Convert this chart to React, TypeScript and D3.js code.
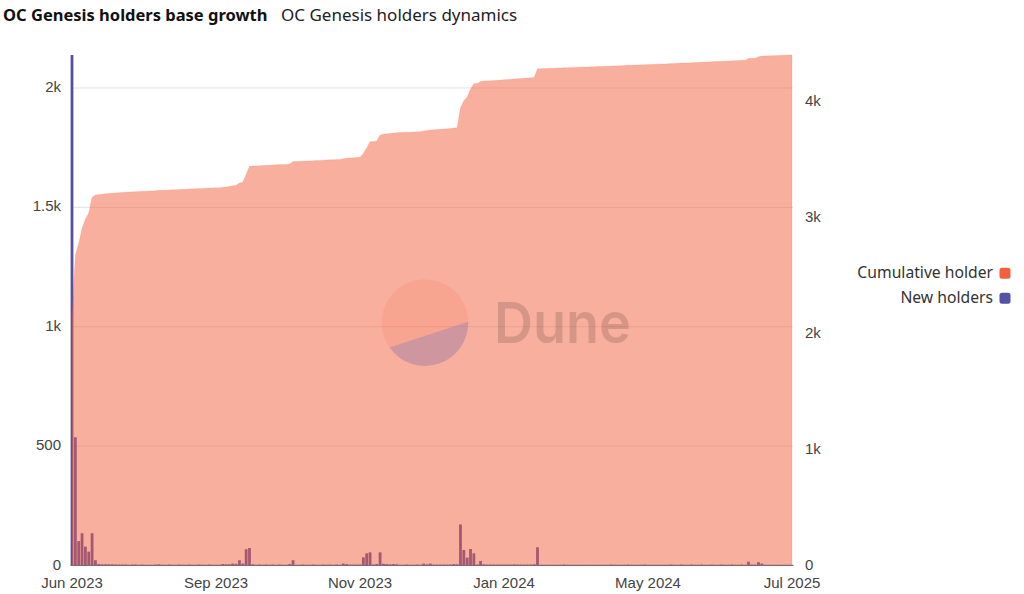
import React from "react";
import * as d3 from "d3";

const titleMain = "OC Genesis holders base growth";
const titleSub = "OC Genesis holders dynamics";
const seriesNames = ["Cumulative holder", "New holders"];
const xTickLabels = ["Jun 2023", "Sep 2023", "Nov 2023", "Jan 2024", "May 2024", "Jul 2025"];
const xTickEvery = 43;
const leftTicks = [0, 500, 1000, 1500, 2000];
const rightTicks = [0, 1000, 2000, 3000, 4000];

const newHolders = [
  2136, 535, 100, 133, 77, 56, 133, 20, 4,
  3, 3, 3, 3, 2, 2,
  2, 2, 1, 2, 2, 1, 2, 1, 1, 1, 2,
  3,
  1, 1, 2, 1, 1, 2, 1, 1, 2, 1, 1, 2, 1, 1, 2, 1, 1, 1,
  4, 3, 3, 6, 5, 20, 6, 66, 71, 3,
  1, 2, 1, 2, 1, 2, 1, 2, 1, 1,
  4, 20,
  1, 1, 2, 1, 1, 2, 1, 1, 2, 1, 2, 1, 2, 1,
  6, 4, 2, 2, 2, 2,
  32, 49, 53, 2, 4, 53, 5,
  4, 3, 4, 3,
  1, 1, 2, 1, 1, 2, 1,
  6, 3, 6,
  2, 2, 2, 2, 2, 2, 4, 3,
  170, 63, 31, 67, 49, 2, 17, 3,
  2, 2, 2, 2, 2, 2, 2, 2, 3, 2, 2, 2, 2, 2, 3,
  74,
  1, 1, 1, 1, 1, 1, 1, 2, 1, 1, 1, 1, 1, 1, 1, 1, 1,
  1, 1, 1, 1, 2, 1, 1, 1, 1, 2, 1, 1, 1, 1, 2, 1, 1, 1, 1, 1,
  1, 1, 2, 1, 1, 2, 1, 1, 2, 1, 1, 2, 1, 1, 2, 1, 1, 2, 1, 1, 2, 1, 1, 2, 1,
  14, 2, 2, 12, 6,
  1, 1, 1, 1, 1, 1, 1, 1, 1,
];

const cumulativeHolders = [
  2136, 2671, 2771, 2904, 2981, 3037, 3170, 3190, 3194, 3197,
  3200, 3203, 3206, 3208, 3210, 3212, 3214, 3215, 3217, 3219,
  3220, 3222, 3223, 3224, 3225, 3227, 3230, 3231, 3232, 3234,
  3235, 3236, 3238, 3239, 3240, 3242, 3243, 3244, 3246, 3247,
  3248, 3250, 3251, 3252, 3253, 3257, 3260, 3263, 3269, 3274,
  3294, 3300, 3366, 3437, 3440, 3441, 3443, 3444, 3446, 3447,
  3449, 3450, 3452, 3453, 3454, 3458, 3478, 3479, 3480, 3482,
  3483, 3484, 3486, 3487, 3488, 3490, 3491, 3493, 3494, 3496,
  3497, 3503, 3507, 3509, 3511, 3513, 3515, 3547, 3596, 3649,
  3651, 3655, 3708, 3713, 3717, 3720, 3724, 3727, 3728, 3729,
  3731, 3732, 3733, 3735, 3736, 3742, 3745, 3751, 3753, 3755,
  3757, 3759, 3761, 3763, 3767, 3770, 3940, 4003, 4034, 4101,
  4150, 4152, 4169, 4172, 4174, 4176, 4178, 4180, 4182, 4184,
  4186, 4188, 4191, 4193, 4195, 4197, 4199, 4201, 4204, 4278,
  4279, 4280, 4281, 4282, 4283, 4284, 4285, 4287, 4288, 4289,
  4290, 4291, 4292, 4293, 4294, 4295, 4296, 4297, 4298, 4299,
  4300, 4302, 4303, 4304, 4305, 4306, 4308, 4309, 4310, 4311,
  4312, 4314, 4315, 4316, 4317, 4318, 4319, 4320, 4321, 4323,
  4324, 4325, 4327, 4328, 4329, 4331, 4332, 4333, 4335, 4336,
  4337, 4339, 4340, 4341, 4343, 4344, 4345, 4347, 4348, 4349,
  4351, 4352, 4366, 4368, 4370, 4382, 4388, 4389, 4390, 4391,
  4392, 4393, 4394, 4395, 4396, 4397,
];

const ORANGE = "#F4603E";
const BLUE = "#5452A2";
const AXIS_FONT = "'Liberation Sans', Arial, sans-serif";
const UI_FONT = "'Noto Sans', 'Open Sans', sans-serif";

function fmtK(v: number): string {
  if (v === 0) return "0";
  if (v >= 1000) return `${+(v / 1000).toFixed(1)}k`;
  return String(v);
}

export default function App() {
  const W = 1024;
  const H = 594;
  const left = 72;
  const right = 792;
  const top = 55;
  const bottom = 565;

  const idx = d3.range(newHolders.length);
  const x = d3.scalePoint<number>().domain(idx).range([left, right]);
  const yL = d3.scaleLinear().domain([0, d3.max(newHolders) as number]).range([bottom, top]);
  const yR = d3.scaleLinear().domain([0, d3.max(cumulativeHolders) as number]).range([bottom, top]);
  const barW = 2.8;

  const areaGen = d3
    .area<number>()
    .x((_, i) => x(i) as number)
    .y0(bottom)
    .y1((d) => yR(d))
    .curve(d3.curveLinear);

  // watermark geometry
  const cx = 425, cy = 322.7, r = 43.3;
  const a1 = (-1.3 * Math.PI) / 180;
  const a2 = (144.9 * Math.PI) / 180;
  const p1 = [cx + r * Math.cos(a1), cy + r * Math.sin(a1)];
  const p2 = [cx + r * Math.cos(a2), cy + r * Math.sin(a2)];
  const lowerSeg = `M${p1[0]},${p1[1]} A${r},${r} 0 0 1 ${p2[0]},${p2[1]} Z`;
  const upperSeg = `M${p2[0]},${p2[1]} A${r},${r} 0 1 1 ${p1[0]},${p1[1]} Z`;

  return (
    <svg
      width={W}
      height={H}
      style={{ position: "absolute", left: 0, top: 0, background: "#fff" }}
    >
      <text x={3} y={21} fontFamily={UI_FONT} fontWeight={700} fontSize={16.5} fill="#111">
        {titleMain}
      </text>
      <text x={281} y={21} fontFamily={UI_FONT} fontWeight={400} fontSize={17} fill="#222">
        {titleSub}
      </text>

      {/* gridlines */}
      {leftTicks
        .filter((t) => t > 0)
        .map((t) => (
          <line key={t} x1={left} x2={right + 1} y1={yL(t) + 0.5} y2={yL(t) + 0.5} stroke="#e3e3e3" strokeWidth={1} />
        ))}

      {/* bars */}
      {newHolders.map((v, i) =>
        v > 0 ? (
          <rect
            key={i}
            x={(x(i) as number) - barW / 2}
            y={yL(v)}
            width={barW}
            height={bottom - yL(v)}
            fill={BLUE}
          />
        ) : null
      )}

      {/* cumulative area */}
      <path d={areaGen(cumulativeHolders) || ""} fill={ORANGE} fillOpacity={0.5} stroke={ORANGE} strokeOpacity={0.15} strokeWidth={1} />

      {/* axis line */}
      <line x1={left - 1.5} x2={right + 1.5} y1={bottom + 0.5} y2={bottom + 0.5} stroke="#6E7079" strokeWidth={1.2} />

      {/* watermark */}
      <path d={upperSeg} fill={ORANGE} fillOpacity={0.14} />
      <path d={lowerSeg} fill={BLUE} fillOpacity={0.26} />
      <text x={494} y={343.3} fontFamily="Inter, 'Noto Sans', sans-serif" fontWeight={600} fontSize={57} fill="#000" fillOpacity={0.14} textLength={137} lengthAdjust="spacingAndGlyphs">
        Dune
      </text>

      {/* left axis labels */}
      {leftTicks.map((t) => (
        <text key={t} x={61} y={yL(t) + 4.5} textAnchor="end" fontFamily={AXIS_FONT} fontSize={15} fill="#444">
          {fmtK(t)}
        </text>
      ))}
      {/* right axis labels */}
      {rightTicks.map((t) => (
        <text key={t} x={805} y={yR(t) + 4.5} textAnchor="start" fontFamily={AXIS_FONT} fontSize={15} fill="#444">
          {fmtK(t)}
        </text>
      ))}
      {/* x axis labels */}
      {xTickLabels.map((lab, k) => (
        <text key={lab} x={x(k * xTickEvery) as number} y={588} textAnchor="middle" fontFamily={AXIS_FONT} fontSize={15} fill="#444">
          {lab}
        </text>
      ))}

      {/* legend */}
      {seriesNames.map((name, k) => (
        <g key={name}>
          <text x={993} y={278 + k * 25} textAnchor="end" fontFamily={UI_FONT} fontSize={15.7} fill="#333">
            {name}
          </text>
          <rect x={999.5} y={267.8 + k * 25} width={11} height={11} rx={2.5} fill={k === 0 ? ORANGE : BLUE} />
        </g>
      ))}
    </svg>
  );
}
